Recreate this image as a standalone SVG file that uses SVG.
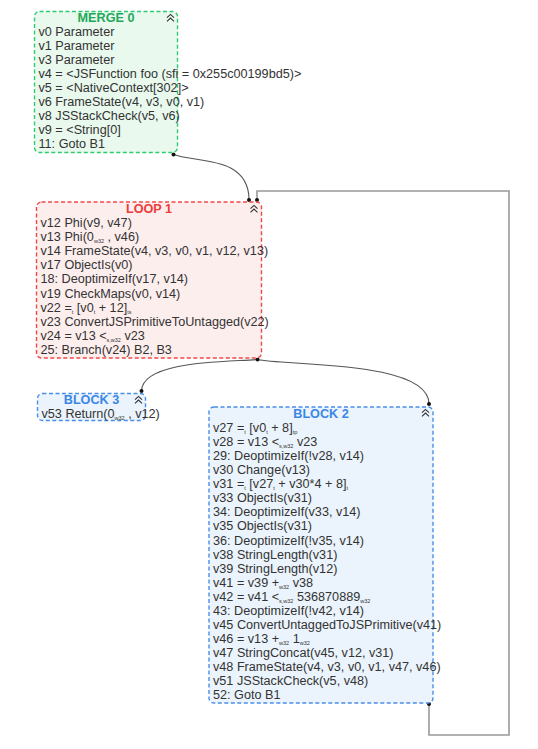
<svg xmlns="http://www.w3.org/2000/svg" width="538" height="749" viewBox="0 0 538 749">
<style>
.t{font-family:"Liberation Sans",Arial,sans-serif;font-size:12.65px;fill:#333}
.ttl{font-family:"Liberation Sans",Arial,sans-serif;font-size:12.65px;font-weight:bold;text-anchor:middle}
.s{font-size:5.5px}
.box{stroke-width:1.4;stroke-dasharray:4 2.5}
.merge{fill:#e9f9ee;stroke:#2ecc71}
.loop{fill:#fdeeee;stroke:#f04848}
.blk{fill:#ebf3fc;stroke:#4a8fe7}
.edge{fill:none;stroke:#555;stroke-width:1.1}
.back{fill:none;stroke:#999;stroke-width:1.6}
.dot{fill:#111}
.ico{fill:none;stroke:#333;stroke-width:1.1}
</style>
<defs>
<symbol id="chev" viewBox="-4 -4 8 8" width="8" height="8" overflow="visible">
<path class="ico" d="M-3.5,-0.3 L0,-3.6 L3.5,-0.3 M-3.5,3.3 L0,0 L3.5,3.3"/>
</symbol>
</defs>

<g id="connectors">
<path class="edge" d="M173.5,154.5 C195,163 249,155 249,200"/>
<path class="back" d="M429,704 L429,735 L509,735 L509,191 L257,191 L257,200"/>
<path class="edge" d="M257.5,359.5 C230,362 142,360 141.5,391"/>
<path class="edge" d="M257.5,359.5 C285,366 429,360 429,404"/>
<circle class="dot" cx="173.5" cy="154.5" r="2"/>
<circle class="dot" cx="249" cy="200" r="2"/>
<circle class="dot" cx="257" cy="200" r="2"/>
<circle class="dot" cx="257.5" cy="359.5" r="2"/>
<circle class="dot" cx="141.5" cy="391" r="2"/>
<circle class="dot" cx="429" cy="404" r="2"/>
<circle class="dot" cx="429" cy="704" r="2"/>
</g>

<g id="merge0">
<rect class="box merge" x="34.5" y="11.5" width="143" height="141" rx="5"/>
<text class="ttl" x="106" y="21.5" fill="#23a85b">MERGE 0</text>
<use href="#chev" x="166.5" y="14"/>
<text class="t" x="38.5" y="36">v0 Parameter</text>
<text class="t" x="38.5" y="50">v1 Parameter</text>
<text class="t" x="38.5" y="64">v3 Parameter</text>
<text class="t" x="38.5" y="78">v4 = &lt;JSFunction foo (sfi = 0x255c00199bd5)&gt;</text>
<text class="t" x="38.5" y="92">v5 = &lt;NativeContext[302]&gt;</text>
<text class="t" x="38.5" y="106">v6 FrameState(v4, v3, v0, v1)</text>
<text class="t" x="38.5" y="120">v8 JSStackCheck(v5, v6)</text>
<text class="t" x="38.5" y="134">v9 = &lt;String[0]</text>
<text class="t" x="38.5" y="148">11: Goto B1</text>
</g>

<g id="loop1">
<rect class="box loop" x="36.5" y="202" width="225" height="156" rx="5"/>
<text class="ttl" x="149" y="212.5" fill="#ee3b3b">LOOP 1</text>
<use href="#chev" x="250" y="205"/>
<text class="t" x="40.5" y="226.5">v12 Phi(v9, v47)</text>
<text class="t" x="40.5" y="240.7">v13 Phi(0<tspan class="s" dy="2">w32</tspan><tspan dy="-2"> , v46)</tspan></text>
<text class="t" x="40.5" y="254.9">v14 FrameState(v4, v3, v0, v1, v12, v13)</text>
<text class="t" x="40.5" y="269.1">v17 ObjectIs(v0)</text>
<text class="t" x="40.5" y="283.3">18: DeoptimizeIf(v17, v14)</text>
<text class="t" x="40.5" y="297.5">v19 CheckMaps(v0, v14)</text>
<text class="t" x="40.5" y="311.7">v22 =<tspan class="s" dy="2">t</tspan><tspan dy="-2"> [v0</tspan><tspan class="s" dy="2">t</tspan><tspan dy="-2"> + 12]</tspan><tspan class="s" dy="2">ts</tspan></text>
<text class="t" x="40.5" y="325.9">v23 ConvertJSPrimitiveToUntagged(v22)</text>
<text class="t" x="40.5" y="340.1">v24 = v13 &lt;<tspan class="s" dy="2">s,w32</tspan><tspan dy="-2"> v23</tspan></text>
<text class="t" x="40.5" y="354.3">25: Branch(v24) B2, B3</text>
</g>

<g id="block3">
<rect class="box blk" x="37.5" y="393.5" width="108" height="27" rx="5"/>
<text class="ttl" x="91.5" y="403.5" fill="#3a87e6">BLOCK 3</text>
<use href="#chev" x="134.5" y="396"/>
<text class="t" x="41.5" y="417.5">v53 Return(0<tspan class="s" dy="2">w32</tspan><tspan dy="-2"> , v12)</tspan></text>
</g>

<g id="block2">
<rect class="box blk" x="209" y="407" width="224" height="296" rx="5"/>
<text class="ttl" x="321" y="417.5" fill="#3a87e6">BLOCK 2</text>
<use href="#chev" x="421.5" y="409"/>
<text class="t" x="213" y="432">v27 =<tspan class="s" dy="2">t</tspan><tspan dy="-2"> [v0</tspan><tspan class="s" dy="2">t</tspan><tspan dy="-2"> + 8]</tspan><tspan class="s" dy="2">tp</tspan></text>
<text class="t" x="213" y="446.07">v28 = v13 &lt;<tspan class="s" dy="2">s,w32</tspan><tspan dy="-2"> v23</tspan></text>
<text class="t" x="213" y="460.14">29: DeoptimizeIf(!v28, v14)</text>
<text class="t" x="213" y="474.21">v30 Change(v13)</text>
<text class="t" x="213" y="488.28">v31 =<tspan class="s" dy="2">t</tspan><tspan dy="-2"> [v27</tspan><tspan class="s" dy="2">t</tspan><tspan dy="-2"> + v30*4 + 8]</tspan><tspan class="s" dy="2">t</tspan></text>
<text class="t" x="213" y="502.35">v33 ObjectIs(v31)</text>
<text class="t" x="213" y="516.42">34: DeoptimizeIf(v33, v14)</text>
<text class="t" x="213" y="530.49">v35 ObjectIs(v31)</text>
<text class="t" x="213" y="544.56">36: DeoptimizeIf(!v35, v14)</text>
<text class="t" x="213" y="558.63">v38 StringLength(v31)</text>
<text class="t" x="213" y="572.7">v39 StringLength(v12)</text>
<text class="t" x="213" y="586.77">v41 = v39 +<tspan class="s" dy="2">w32</tspan><tspan dy="-2"> v38</tspan></text>
<text class="t" x="213" y="600.84">v42 = v41 &lt;<tspan class="s" dy="2">s,w32</tspan><tspan dy="-2"> 536870889</tspan><tspan class="s" dy="2">w32</tspan></text>
<text class="t" x="213" y="614.91">43: DeoptimizeIf(!v42, v14)</text>
<text class="t" x="213" y="628.98">v45 ConvertUntaggedToJSPrimitive(v41)</text>
<text class="t" x="213" y="643.05">v46 = v13 +<tspan class="s" dy="2">w32</tspan><tspan dy="-2"> 1</tspan><tspan class="s" dy="2">w32</tspan></text>
<text class="t" x="213" y="657.12">v47 StringConcat(v45, v12, v31)</text>
<text class="t" x="213" y="671.19">v48 FrameState(v4, v3, v0, v1, v47, v46)</text>
<text class="t" x="213" y="685.26">v51 JSStackCheck(v5, v48)</text>
<text class="t" x="213" y="699.33">52: Goto B1</text>
</g>
</svg>
